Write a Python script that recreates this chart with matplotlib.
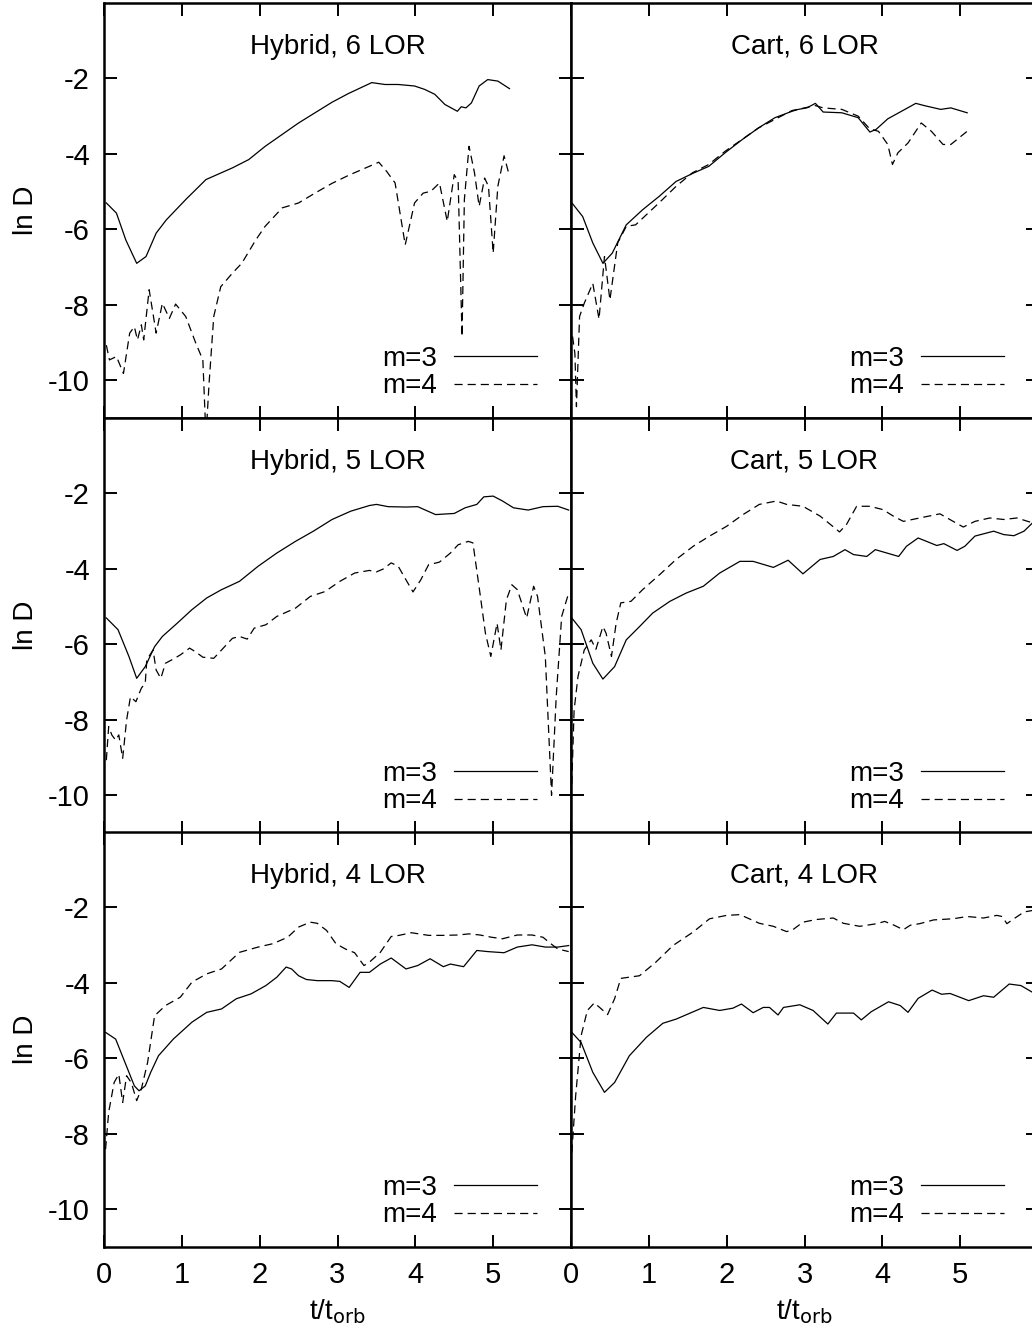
import numpy as np
import matplotlib
matplotlib.use("Agg")
import matplotlib.pyplot as plt

plt.rcParams['font.family'] = ['Liberation Sans', 'DejaVu Sans']
plt.rcParams['font.size'] = 20
plt.rcParams['axes.unicode_minus'] = False

# ---- Hybrid, 6 LOR ----
hyb6_m3_t = [0.03, 0.16, 0.28, 0.42, 0.54, 0.67, 0.80, 1.05, 1.31, 1.65, 1.86, 2.07, 2.50, 2.93, 3.14,
             3.44, 3.61, 3.78, 3.99, 4.12, 4.25, 4.38, 4.46, 4.54, 4.59, 4.65, 4.72, 4.82, 4.93, 5.06, 5.21]
hyb6_m3_v = [-5.30, -5.57, -6.28, -6.90, -6.72, -6.10, -5.75, -5.21, -4.68, -4.37, -4.15, -3.80, -3.18, -2.63, -2.40,
             -2.11, -2.16, -2.16, -2.20, -2.29, -2.42, -2.69, -2.78, -2.87, -2.75, -2.78, -2.65, -2.20, -2.03, -2.07, -2.27]
hyb6_m4_t = [0.03, 0.07, 0.16, 0.25, 0.33, 0.39, 0.43, 0.48, 0.51, 0.58, 0.67, 0.75, 0.84, 0.92, 1.05, 1.18, 1.27,
             1.31, 1.35, 1.41, 1.50, 1.65, 1.77, 1.95, 2.07, 2.29, 2.50, 2.71, 2.93, 3.14, 3.53, 3.63, 3.74, 3.87,
             3.99, 4.10, 4.20, 4.31, 4.41, 4.50, 4.55, 4.60, 4.63, 4.69, 4.76, 4.82, 4.89, 4.94, 5.00, 5.06, 5.14, 5.21]
hyb6_m4_v = [-9.07, -9.46, -9.37, -9.82, -8.75, -8.58, -8.93, -8.53, -8.93, -7.60, -8.75, -7.96, -8.36, -7.98, -8.31,
             -9.02, -9.46, -11.5, -10.08, -8.31, -7.52, -7.16, -6.90, -6.28, -5.92, -5.43, -5.30, -5.04, -4.78, -4.57,
             -4.22, -4.46, -4.77, -6.41, -5.30, -5.04, -4.99, -4.77, -5.79, -4.55, -4.73, -8.84, -5.21, -3.80, -4.50,
             -5.39, -4.64, -4.86, -6.63, -4.86, -4.05, -4.59]

# ---- Cart, 6 LOR ----
cart6_m3_t = [0.02, 0.15, 0.28, 0.41, 0.53, 0.71, 0.92, 1.13, 1.35, 1.56, 1.77, 1.98, 2.20, 2.41, 2.62, 2.84, 2.92,
              3.03, 3.14, 3.24, 3.48, 3.69, 3.84, 3.92, 4.07, 4.29, 4.43, 4.54, 4.75, 4.88, 5.09]
cart6_m3_v = [-5.32, -5.66, -6.36, -6.90, -6.63, -5.88, -5.48, -5.13, -4.73, -4.52, -4.33, -3.97, -3.62, -3.31, -3.04,
              -2.87, -2.82, -2.78, -2.66, -2.89, -2.91, -3.04, -3.42, -3.35, -3.07, -2.82, -2.66, -2.72, -2.82, -2.78,
              -2.91]
cart6_m4_t = [0.02, 0.05, 0.07, 0.11, 0.17, 0.28, 0.36, 0.43, 0.50, 0.60, 0.71, 0.83, 1.13, 1.35, 1.56, 1.77, 1.98,
              2.41, 2.84, 3.14, 3.24, 3.48, 3.69, 3.84, 3.95, 4.07, 4.13, 4.20, 4.33, 4.50, 4.63, 4.78, 4.88, 5.09]
cart6_m4_v = [-8.84, -9.29, -10.70, -8.31, -7.96, -7.43, -8.38, -6.72, -7.87, -6.36, -5.92, -5.88, -5.30, -4.86,
              -4.50, -4.28, -3.93, -3.31, -2.85, -2.72, -2.78, -2.82, -3.00, -3.34, -3.40, -3.75, -4.28, -3.97, -3.71,
              -3.18, -3.40, -3.75, -3.75, -3.40]

# ---- Hybrid, 5 LOR ----
hyb5_m3_t = [0.03, 0.18, 0.32, 0.42, 0.53, 0.65, 0.75, 0.94, 1.13, 1.32, 1.51, 1.74, 1.98, 2.22, 2.46, 2.69, 2.93,
             3.17, 3.41, 3.50, 3.65, 3.88, 4.03, 4.26, 4.50, 4.64, 4.79, 4.88, 5.00, 5.12, 5.26, 5.45, 5.64, 5.83, 5.97]
hyb5_m3_v = [-5.30, -5.61, -6.32, -6.90, -6.59, -6.06, -5.79, -5.44, -5.08, -4.77, -4.55, -4.33, -3.93, -3.58, -3.27,
             -3.00, -2.69, -2.47, -2.32, -2.29, -2.35, -2.36, -2.35, -2.56, -2.53, -2.38, -2.29, -2.09, -2.07, -2.20,
             -2.38, -2.44, -2.35, -2.34, -2.44]
hyb5_m4_t = [0.03, 0.06, 0.10, 0.15, 0.19, 0.24, 0.29, 0.34, 0.41, 0.48, 0.53, 0.55, 0.63, 0.67, 0.73, 0.79, 0.89,
             0.98, 1.10, 1.17, 1.27, 1.41, 1.51, 1.65, 1.74, 1.84, 1.93, 2.08, 2.22, 2.46, 2.65, 2.84, 3.03, 3.22,
             3.41, 3.50, 3.59, 3.69, 3.78, 3.88, 3.97, 4.07, 4.17, 4.31, 4.45, 4.55, 4.68, 4.74, 4.83, 4.90, 4.97,
             5.05, 5.10, 5.17, 5.24, 5.31, 5.43, 5.52, 5.57, 5.67, 5.75, 5.81, 5.88, 5.97]
hyb5_m4_v = [-9.07, -8.18, -8.40, -8.54, -8.40, -9.02, -8.01, -7.39, -7.52, -7.16, -7.03, -6.41, -6.15, -6.68, -6.90,
             -6.50, -6.39, -6.28, -6.10, -6.19, -6.34, -6.37, -6.15, -5.84, -5.79, -5.86, -5.57, -5.48, -5.26, -5.04,
             -4.73, -4.60, -4.33, -4.11, -4.04, -4.08, -4.00, -3.84, -3.93, -4.29, -4.61, -4.29, -3.89, -3.82, -3.58,
             -3.36, -3.27, -3.31, -4.64, -5.70, -6.32, -5.44, -6.15, -4.82, -4.42, -4.55, -5.30, -4.46, -4.73, -6.32,
             -10.0, -7.39, -5.26, -4.64]

# ---- Cart, 5 LOR ----
cart5_m3_t = [0.01, 0.13, 0.28, 0.41, 0.56, 0.71, 0.88, 1.05, 1.27, 1.48, 1.70, 1.91, 2.17, 2.34, 2.60, 2.79, 2.98,
              3.20, 3.37, 3.52, 3.63, 3.80, 3.91, 4.06, 4.21, 4.31, 4.46, 4.70, 4.79, 4.96, 5.06, 5.19, 5.43, 5.56,
              5.69, 5.82, 5.93]
cart5_m3_v = [-5.30, -5.61, -6.50, -6.92, -6.59, -5.88, -5.53, -5.17, -4.86, -4.64, -4.46, -4.11, -3.80, -3.80, -3.96,
              -3.77, -4.13, -3.75, -3.67, -3.49, -3.62, -3.67, -3.49, -3.58, -3.67, -3.40, -3.18, -3.38, -3.33, -3.51,
              -3.40, -3.13, -3.00, -3.09, -3.12, -3.00, -2.78]
cart5_m4_t = [0.01, 0.04, 0.09, 0.17, 0.26, 0.32, 0.41, 0.45, 0.52, 0.58, 0.64, 0.77, 0.92, 1.14, 1.35, 1.57, 1.78,
              2.00, 2.21, 2.42, 2.64, 2.77, 2.98, 3.20, 3.35, 3.45, 3.54, 3.67, 3.84, 4.01, 4.14, 4.27, 4.48, 4.74,
              4.91, 5.04, 5.19, 5.38, 5.56, 5.73, 5.93]
cart5_m4_v = [-9.70, -7.74, -6.85, -6.15, -5.88, -6.13, -5.53, -5.70, -6.32, -5.44, -4.90, -4.86, -4.55, -4.15,
              -3.75, -3.40, -3.13, -2.87, -2.56, -2.29, -2.20, -2.29, -2.34, -2.60, -2.85, -3.02, -2.82, -2.34, -2.34,
              -2.43, -2.60, -2.74, -2.65, -2.54, -2.74, -2.89, -2.74, -2.65, -2.69, -2.65, -2.78]

# ---- Hybrid, 4 LOR ----
hyb4_m3_t = [0.02, 0.15, 0.27, 0.39, 0.45, 0.53, 0.60, 0.70, 0.89, 1.13, 1.32, 1.51, 1.70, 1.89, 2.08, 2.22, 2.34,
             2.41, 2.50, 2.60, 2.74, 2.93, 3.03, 3.15, 3.29, 3.41, 3.55, 3.69, 3.88, 4.03, 4.19, 4.36, 4.45, 4.62,
             4.79, 4.93, 5.14, 5.31, 5.50, 5.67, 5.83, 5.97]
hyb4_m3_v = [-5.31, -5.49, -6.11, -6.73, -6.86, -6.73, -6.37, -5.93, -5.49, -5.04, -4.78, -4.69, -4.42, -4.29, -4.07,
             -3.85, -3.58, -3.63, -3.81, -3.91, -3.94, -3.94, -3.96, -4.12, -3.72, -3.72, -3.50, -3.34, -3.63, -3.54,
             -3.36, -3.57, -3.50, -3.57, -3.14, -3.17, -3.20, -3.05, -2.99, -3.05, -3.05, -3.01]
hyb4_m4_t = [0.02, 0.06, 0.13, 0.19, 0.24, 0.29, 0.35, 0.42, 0.48, 0.56, 0.65, 0.79, 0.98, 1.13, 1.32, 1.51, 1.74,
             1.98, 2.17, 2.36, 2.50, 2.65, 2.74, 2.86, 2.98, 3.10, 3.22, 3.34, 3.41, 3.55, 3.69, 3.79, 3.95, 4.17,
             4.36, 4.55, 4.69, 4.83, 4.98, 5.12, 5.31, 5.50, 5.64, 5.74, 5.83, 5.97]
hyb4_m4_v = [-8.41, -7.43, -6.64, -6.42, -7.17, -6.46, -6.64, -7.12, -6.81, -6.11, -4.87, -4.60, -4.38, -3.98, -3.76,
             -3.63, -3.19, -3.05, -2.96, -2.79, -2.52, -2.39, -2.42, -2.61, -2.96, -3.10, -3.20, -3.54, -3.45, -3.19,
             -2.77, -2.74, -2.67, -2.74, -2.74, -2.73, -2.70, -2.73, -2.79, -2.83, -2.73, -2.73, -2.79, -2.96, -3.10,
             -3.17]

# ---- Cart, 4 LOR ----
cart4_m3_t = [0.01, 0.13, 0.28, 0.43, 0.56, 0.75, 0.97, 1.18, 1.35, 1.61, 1.70, 1.91, 2.08, 2.19, 2.34, 2.47, 2.55,
              2.66, 2.73, 2.94, 3.11, 3.30, 3.41, 3.63, 3.73, 3.86, 4.08, 4.23, 4.33, 4.46, 4.64, 4.76, 4.87, 5.11,
              5.30, 5.43, 5.63, 5.78, 5.93]
cart4_m3_v = [-5.31, -5.58, -6.37, -6.90, -6.64, -5.93, -5.44, -5.07, -4.96, -4.73, -4.65, -4.73, -4.67, -4.56, -4.79,
              -4.65, -4.65, -4.85, -4.65, -4.58, -4.73, -5.09, -4.80, -4.80, -4.98, -4.76, -4.50, -4.60, -4.78, -4.41,
              -4.19, -4.30, -4.28, -4.47, -4.34, -4.38, -4.03, -4.07, -4.25]
cart4_m4_t = [0.01, 0.06, 0.13, 0.21, 0.30, 0.39, 0.47, 0.56, 0.64, 0.88, 1.09, 1.31, 1.57, 1.78, 2.00, 2.17, 2.42,
              2.60, 2.77, 2.85, 2.98, 3.15, 3.37, 3.50, 3.71, 3.93, 4.03, 4.14, 4.27, 4.36, 4.48, 4.66, 4.91, 5.09,
              5.30, 5.47, 5.54, 5.60, 5.69, 5.82, 5.93]
cart4_m4_v = [-8.50, -6.99, -5.40, -4.73, -4.53, -4.69, -4.84, -4.42, -3.88, -3.81, -3.45, -3.01, -2.65, -2.30,
              -2.21, -2.19, -2.42, -2.50, -2.64, -2.59, -2.39, -2.32, -2.28, -2.42, -2.50, -2.43, -2.37, -2.46, -2.59,
              -2.47, -2.43, -2.33, -2.30, -2.24, -2.28, -2.21, -2.24, -2.43, -2.30, -2.12, -2.08]

panels = [
    ("Hybrid, 6 LOR", hyb6_m3_t, hyb6_m3_v, hyb6_m4_t, hyb6_m4_v),
    ("Cart, 6 LOR", cart6_m3_t, cart6_m3_v, cart6_m4_t, cart6_m4_v),
    ("Hybrid, 5 LOR", hyb5_m3_t, hyb5_m3_v, hyb5_m4_t, hyb5_m4_v),
    ("Cart, 5 LOR", cart5_m3_t, cart5_m3_v, cart5_m4_t, cart5_m4_v),
    ("Hybrid, 4 LOR", hyb4_m3_t, hyb4_m3_v, hyb4_m4_t, hyb4_m4_v),
    ("Cart, 4 LOR", cart4_m3_t, cart4_m3_v, cart4_m4_t, cart4_m4_v),
]

fig = plt.figure(figsize=(10.32, 13.4), dpi=100)

W, H = 1032.0, 1340.0
col_left = [104 / W, 571 / W]
ax_w = 467 / W
row_top_px = [3, 418, 832]
ax_h = 415 / H

for i, (title, t3, v3, t4, v4) in enumerate(panels):
    row, col = divmod(i, 2)
    bottom = 1 - (row_top_px[row] + 415) / H
    ax = fig.add_axes([col_left[col], bottom, ax_w, ax_h])
    ax.plot(t3, v3, color='black', lw=0.9, label='m=3')
    ax.plot(t4, v4, color='black', lw=0.9, linestyle=(0, (6.5, 4)), label='m=4')
    ax.set_xlim(0, 6)
    ax.set_ylim(-11, 0)
    ax.set_xticks([0, 1, 2, 3, 4, 5])
    ax.set_yticks([-10, -8, -6, -4, -2])
    ax.tick_params(direction='in', length=9, width=1.4, top=True, right=True,
                   labelsize=21, pad=10)
    for sp in ax.spines.values():
        sp.set_linewidth(1.8)
    if col == 1:
        ax.tick_params(labelleft=False)
    else:
        ax.set_ylabel('ln D', fontsize=20, labelpad=7)
    if row < 2:
        ax.tick_params(labelbottom=False)
    else:
        ax.set_xlabel('t/t$_{\\mathrm{orb}}$', fontsize=20, labelpad=6)
    ax.text(0.5, 0.894, title, transform=ax.transAxes, ha='center', va='center', fontsize=20)
    ax.legend(loc='lower right', bbox_to_anchor=(0.927, 0.045), frameon=False, markerfirst=False,
              handlelength=3.0, handletextpad=0.6, labelspacing=0.05, borderpad=0, borderaxespad=0,
              fontsize=20)

fig.savefig('out.png', dpi=100)
